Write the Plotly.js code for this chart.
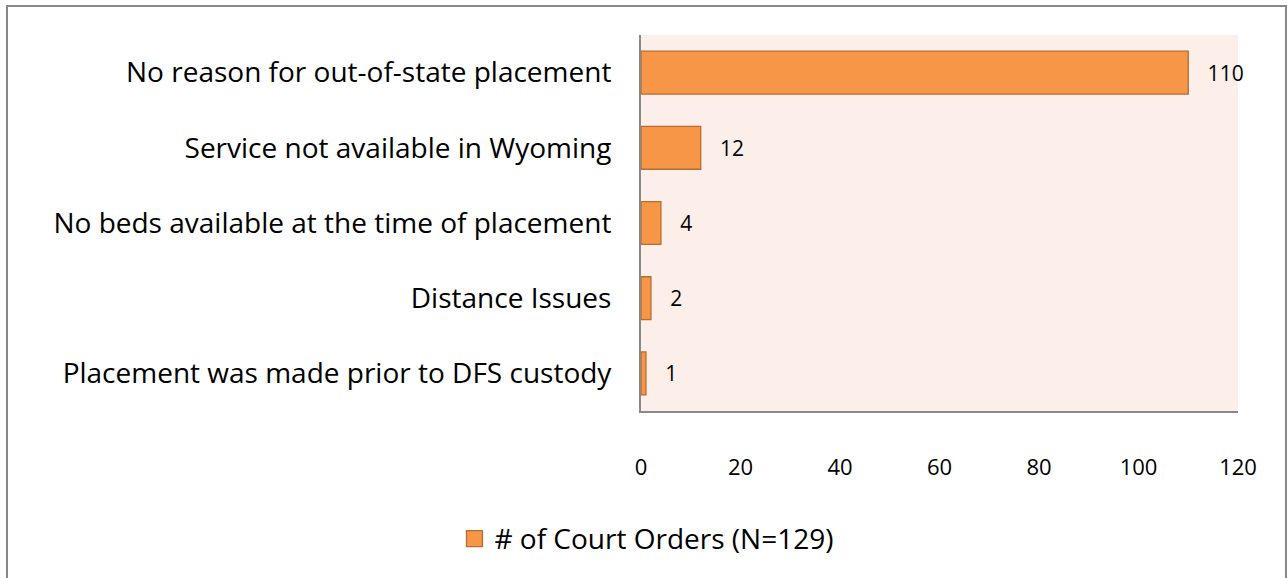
<!DOCTYPE html>
<html><head><meta charset="utf-8">
<script src="https://cdn.plot.ly/plotly-3.0.1.min.js"></script>
<style>
html,body{margin:0;padding:0;background:#fff;}
#wrap{position:relative;width:1288px;height:578px;}
#chart{position:absolute;left:0;top:0;width:1288px;height:578px;}
#frame{position:absolute;left:6px;top:5px;width:1281px;height:580px;border:2px solid #898989;box-sizing:border-box;pointer-events:none;}
</style></head>
<body><div id="wrap"><div id="chart"></div><div id="frame"></div></div>
<script>
const categories = [
  "No reason for out-of-state placement",
  "Service not available in Wyoming",
  "No beds available at the time of placement",
  "Distance Issues",
  "Placement was made prior to DFS custody"
];
const courtOrders = [110, 12, 4, 2, 1];
const seriesName = "# of Court Orders (N=129)";
const xTicks = [0, 20, 40, 60, 80, 100, 120];

const font = "'Open Sans', Lato, sans-serif";
const barColor = '#F79646', barLine = '#B66D31';
Plotly.newPlot('chart', [{
  type: 'bar', orientation: 'h',
  y: categories, x: courtOrders, name: seriesName,
  marker: {color: barColor, line: {color: barLine, width: 1.3}},
  width: 0.57,
  text: courtOrders.map(v => '\u00a0\u00a0\u00a0' + v), textposition: 'outside',
  textfont: {size: 21, color: '#000', family: font},
  cliponaxis: false,
  showlegend: false
}, {
  type: 'scatter', mode: 'markers', x: [null], y: [null], name: seriesName,
  marker: {symbol: 'square', size: 17, color: barColor, line: {color: barLine, width: 1.3}},
  showlegend: true, hoverinfo: 'skip'
}], {
  width: 1288, height: 578,
  margin: {l: 641, r: 50, t: 35, b: 167},
  paper_bgcolor: 'rgba(0,0,0,0)', plot_bgcolor: '#FCEEE9',
  font: {family: font, color: '#000'},
  xaxis: {range: [0, 120], tickvals: xTicks, ticktext: xTicks.map(String),
    showgrid: false, zeroline: false, showline: true, linecolor: '#898989', linewidth: 2,
    ticks: '', ticklabelstandoff: 36, tickfont: {size: 22}},
  yaxis: {autorange: 'reversed', showgrid: false, zeroline: false, showline: true,
    linecolor: '#898989', linewidth: 2, ticks: '', ticklabelstandoff: 22,
    tickfont: {size: 28}},
  legend: {orientation: 'h', x: 0.01, xanchor: 'center', y: -0.34, yanchor: 'middle',
    font: {size: 28}, bgcolor: 'rgba(0,0,0,0)', itemsizing: 'trace'},
  bargap: 0.43
}, {displayModeBar: false, staticPlot: true});
</script></body></html>
